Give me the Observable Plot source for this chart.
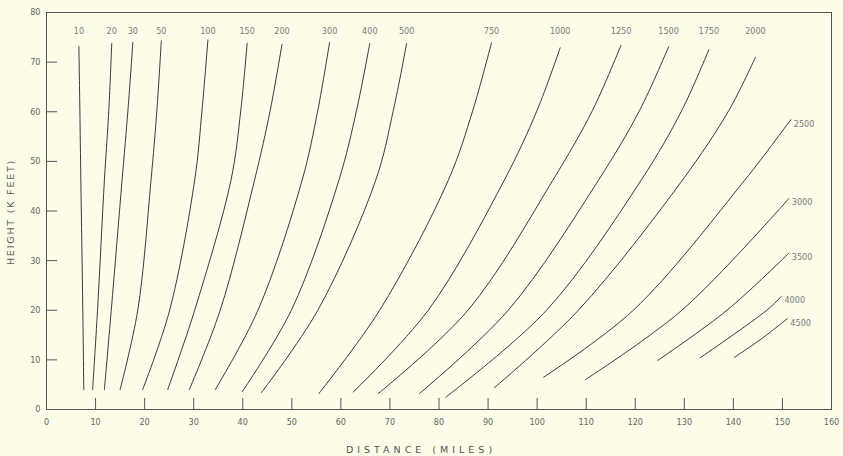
<!DOCTYPE html>
<html>
<head>
<meta charset="utf-8">
<script src="https://cdn.jsdelivr.net/npm/d3@7"></script>
<script src="https://cdn.jsdelivr.net/npm/@observablehq/plot@0.6"></script>
<style>
  html, body { margin: 0; padding: 0; background: #fcfce8; }
  #chart svg { display: block; }
</style>
</head>
<body>
<div id="chart"></div>
<script>
const xTicks = [0, 10, 20, 30, 40, 50, 60, 70, 80, 90, 100, 110, 120, 130, 140, 150, 160];
const yTicks = [0, 10, 20, 30, 40, 50, 60, 70, 80];

const rangeLabels = ["10", "20", "30", "50", "100", "150", "200", "300", "400", "500",
  "750", "1000", "1250", "1500", "1750", "2000", "2500", "3000", "3500", "4000", "4500"];

// distance (miles) points of each curve, bottom to top
const distances = [
  [7.6, 7.4, 7.0, 6.8, 6.6],
  [9.4, 10.4, 11.8, 12.7, 13.3],
  [11.8, 13.2, 15.4, 16.6, 17.6],
  [15.0, 18.6, 21.3, 22.5, 23.4],
  [19.6, 25.1, 30.2, 31.7, 32.9],
  [24.7, 30.2, 37.6, 39.6, 40.9],
  [29.1, 35.4, 42.4, 45.6, 48.0],
  [34.4, 43.1, 52.1, 55.3, 57.7],
  [39.9, 49.9, 59.6, 63.2, 65.9],
  [43.8, 55.3, 67.1, 70.7, 73.4],
  [55.5, 67.9, 81.9, 86.9, 90.7],
  [62.5, 77.8, 93.3, 100.0, 104.7],
  [67.6, 85.9, 103.2, 111.3, 117.1],
  [76.0, 94.1, 112.5, 120.9, 126.8],
  [81.4, 101.9, 121.2, 129.5, 135.0],
  [91.3, 108.4, 129.6, 139.1, 144.5],
  [101.3, 119.6, 142.3, 151.7],
  [109.8, 129.5, 151.3],
  [124.6, 138.7, 151.3],
  [133.2, 146.8, 149.8],
  [140.2, 145.8, 151.0]
];
// height (K feet) points of each curve, bottom to top
const heights = [
  [4.0, 20, 46.2, 60.3, 73.2],
  [4.0, 20, 46.2, 60.3, 73.8],
  [4.0, 20, 46.2, 60.3, 74.0],
  [4.0, 20, 46.2, 60.3, 74.3],
  [4.0, 20, 46.2, 60.3, 74.5],
  [4.0, 20, 46.2, 60.3, 73.8],
  [4.0, 20, 46.2, 60.3, 73.6],
  [4.0, 20, 46.2, 60.3, 74.0],
  [3.6, 20, 46.2, 60.3, 73.8],
  [3.4, 20, 46.2, 60.3, 73.8],
  [3.2, 20, 46.2, 60.3, 73.9],
  [3.5, 20, 46.2, 60.3, 72.9],
  [3.2, 20, 46.2, 60.3, 73.4],
  [3.2, 20, 46.2, 60.3, 73.1],
  [2.5, 20, 46.2, 60.3, 72.5],
  [4.4, 20, 46.2, 60.3, 71.0],
  [6.5, 20, 46.2, 58.4],
  [6.0, 20, 42.5],
  [9.9, 20, 31.5],
  [10.4, 20, 22.8],
  [10.5, 14.3, 18.3]
];

const points = rangeLabels.flatMap((label, i) =>
  distances[i].map((d, j) => ({label, distance: d, height: heights[i][j]})));
const ends = rangeLabels.map((label, i) => ({
  label,
  distance: distances[i][distances[i].length - 1],
  height: heights[i][heights[i].length - 1]
}));
const topEnds = ends.slice(0, 16);
const rightEnds = ends.slice(16);

const chart = Plot.plot({
  width: 843,
  height: 456,
  marginLeft: 46,
  marginRight: 12,
  marginTop: 12,
  marginBottom: 47,
  style: {
    background: "#fcfce8",
    fontFamily: "'Liberation Sans Narrow', 'DejaVu Sans Condensed', 'Liberation Sans', sans-serif",
    fontSize: "9px",
    color: "#555"
  },
  x: {domain: [0, 160]},
  y: {domain: [0, 80]},
  marks: [
    Plot.frame({stroke: "#555", strokeWidth: 1}),
    Plot.axisX({ticks: xTicks, tickSize: 11, dy: -11, tickPadding: 9, label: null, stroke: "#555", fill: "#666"}),
    Plot.axisY({ticks: yTicks, tickSize: 11, dx: 11, tickPadding: 6, label: null, stroke: "#555", fill: "#666"}),
    Plot.line(points, {x: "distance", y: "height", z: "label", curve: "catmull-rom", stroke: "#3a3a3a", strokeWidth: 1}),
    Plot.text(topEnds, {x: "distance", text: "label", frameAnchor: "top", dy: 15, fill: "#7a7a7a", fontSize: 9}),
    Plot.text(rightEnds, {x: "distance", y: "height", text: "label", textAnchor: "start", dx: 3, dy: 4, fill: "#7a7a7a", fontSize: 9}),
    Plot.text(["HEIGHT (K FEET)"], {frameAnchor: "left", rotate: -90, dx: -36, fill: "#555", fontSize: 9.5, fontFamily: "'DejaVu Sans', sans-serif"}),
    Plot.text(["DISTANCE (MILES)"], {frameAnchor: "bottom", dx: -17, dy: 40, fill: "#555", fontSize: 9.5, fontFamily: "'DejaVu Sans', sans-serif"})
  ]
});

document.getElementById("chart").append(chart);

// letter-spaced axis titles, re-centred after spacing is applied
const svgBox = chart.getBoundingClientRect();
function spaceAndCenter(str, spacing, cx, cy) {
  d3.select(chart).selectAll("text")
    .filter(function() { return this.textContent === str; })
    .each(function() {
      this.setAttribute("letter-spacing", spacing);
      const r = this.getBoundingClientRect();
      const mx = (r.left + r.right) / 2 - svgBox.left;
      const my = (r.top + r.bottom) / 2 - svgBox.top;
      const t = this.getAttribute("transform") || "";
      this.setAttribute("transform", `translate(${cx - mx},${cy - my}) ` + t);
    });
}
spaceAndCenter("DISTANCE (MILES)", "4px", 421, 449);
spaceAndCenter("HEIGHT (K FEET)", "1.8px", 10, 212);
</script>
</body>
</html>
